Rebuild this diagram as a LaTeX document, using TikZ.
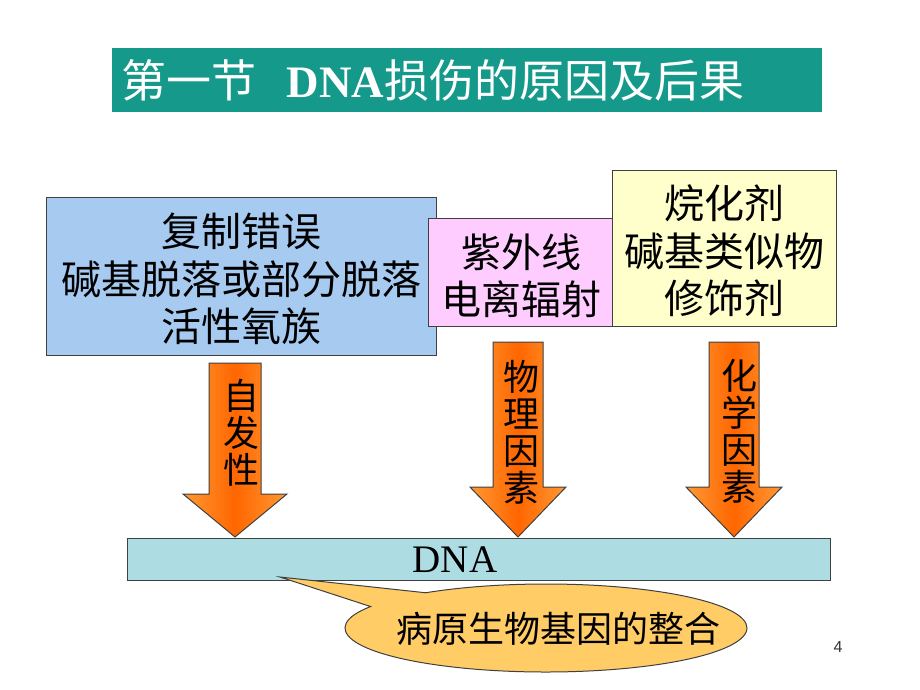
\documentclass[tikz,border=0pt]{standalone}
\usepackage{fontspec}
\setmainfont{Liberation Serif}
\setsansfont{Liberation Sans}
\newfontfamily\cjk{Noto Sans CJK SC}
\usetikzlibrary{shapes.callouts}
\begin{document}
\begin{tikzpicture}[x=1pt, y=-1pt,
  boxtext/.style={font=\cjk\fontsize{40}{47.5}\selectfont, align=center, text=black},
  arrowtext/.style={font=\cjk\fontsize{36}{37}\selectfont, align=center, text=black},
  outline/.style={draw=black!75, line width=1pt}]
\useasboundingbox (0,0) rectangle (920,690);
\definecolor{col}{HTML}{14998B}
\fill[col] (112,48) rectangle (822,112) (118,80) node[anchor=west, text=white, font=\cjk\fontsize{45}{45}\selectfont] (title) {第一节\hspace{30pt}{\rmfamily\bfseries DNA}损伤的原因及后果};
\definecolor{col}{HTML}{A6CAF0}
\filldraw[fill=col, outline] (46,197) rectangle (436,355) (241,279) node[boxtext] (spont) {复制错误\\碱基脱落或部分脱落\\活性氧族};
\definecolor{col}{HTML}{FFCCFF}
\filldraw[fill=col, outline] (428,218) rectangle (614,326) (521,276) node[boxtext] (phys) {紫外线\\电离辐射};
\definecolor{col}{HTML}{FFFFCC}
\filldraw[fill=col, outline] (612,170) rectangle (836,326) (724,251) node[boxtext] (chem) {烷化剂\\碱基类似物\\修饰剂};
% down arrows
\definecolor{col}{HTML}{FF6600}
\definecolor{coledge}{HTML}{FF9933}
\shadedraw[left color=coledge, right color=coledge, middle color=col, outline] (209,363) -- (261,363) -- (261,494) -- (287,494) -- (235,537) -- (183,494) -- (209,494) -- cycle (241,433) node[arrowtext] (spontarrow) {自\\发\\性};
\shadedraw[left color=coledge, right color=coledge, middle color=col, outline] (493,342) -- (543,342) -- (543,487) -- (566,487) -- (518,537) -- (470,487) -- (493,487) -- cycle (521,432) node[arrowtext] (physarrow) {物\\理\\因\\素};
\shadedraw[left color=coledge, right color=coledge, middle color=col, outline] (709,342) -- (759,342) -- (759,487) -- (782,487) -- (734,537) -- (686,487) -- (709,487) -- cycle (739,431) node[arrowtext] (chemarrow) {化\\学\\因\\素};
\definecolor{col}{HTML}{ADDDE3}
\filldraw[fill=col, outline] (127,538) rectangle (830,580) (455,560) node[font=\fontsize{39}{39}\selectfont] (dna) {DNA};
% callout
\definecolor{col}{HTML}{FFCC66}
\node[ellipse callout, fill=col, outline, minimum width=402pt, minimum height=88pt, inner sep=0pt, callout absolute pointer={(280,577)}, callout pointer arc=24] (insert) at (546,628) {};
\node[font=\cjk\fontsize{36}{36}\selectfont] (inserttext) at (558,629) {病原生物基因的整合};
\node[font=\sffamily\fontsize{16}{16}\selectfont, text=black!80] (page) at (838,647) {4};
\end{tikzpicture}
\end{document}
